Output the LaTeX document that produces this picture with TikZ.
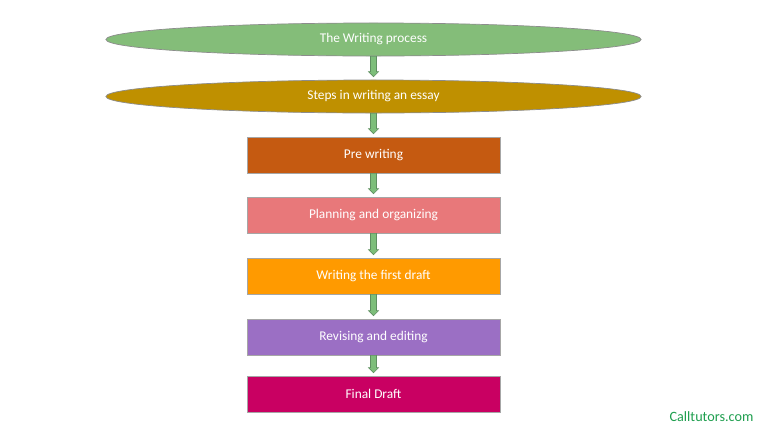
\documentclass[tikz,border=0pt]{standalone}
\usepackage{fontspec}
\setmainfont{Carlito}
\usetikzlibrary{shapes.geometric,calc}
\definecolor{procgreen}{HTML}{84BD79}
\definecolor{stepgold}{HTML}{BF9000}
\definecolor{prebrown}{HTML}{C55A11}
\definecolor{planpink}{HTML}{E8787A}
\definecolor{draftorange}{HTML}{FF9A00}
\definecolor{revpurple}{HTML}{9B6FC4}
\definecolor{finalmagenta}{HTML}{C90062}
\definecolor{arrowfill}{HTML}{7DBE7A}
\definecolor{arrowline}{HTML}{5E8F60}
\definecolor{markgreen}{HTML}{1E9E4E}
\begin{document}
\begin{tikzpicture}[x=0.025cm, y=-0.025cm,
    topic/.style = {ellipse, draw=black!45, line width=0.5pt, inner sep=0pt,
      minimum width=13.375cm, minimum height=0.825cm, text=white,
      font=\fontsize{9.5}{11}\selectfont},
    stage/.style = {rectangle, draw=black!35, line width=0.5pt, inner sep=0pt,
      minimum width=6.325cm, minimum height=0.9cm, text=white,
      font=\fontsize{9.5}{11}\selectfont},
    blockarrow/.style = {fill=arrowfill, draw=arrowline, line width=0.4pt, line join=miter}]

      \useasboundingbox (0,0) rectangle (760,428);

      \node[topic, fill=procgreen] (proc) at (373.5,39.5) {The Writing process};
      \node[topic, fill=stepgold] (steps) at (373.5,96.5) {Steps in writing an essay};

      \foreach \name/\y/\col/\txt in {pre/155/prebrown/Pre writing,
          plan/215/planpink/Planning and organizing,
          draft/276/draftorange/Writing the first draft,
          revise/337/revpurple/Revising and editing,
          final/394/finalmagenta/Final Draft}
        \node[stage, fill=\col] (\name) at (373.5,\y) {\txt};

      \foreach \a/\b in {proc/steps, steps/pre, pre/plan, plan/draft, draft/revise, revise/final}
        \draw[blockarrow] ($(\a.south)+(-3,0)$) -- ($(\b.north)+(-3,-8)$)
          -- ($(\b.north)+(-5,-8)$) -- ($(\b.north)+(0,-3)$) -- ($(\b.north)+(5,-8)$)
          -- ($(\b.north)+(3,-8)$) -- ($(\a.south)+(3,0)$) -- cycle;

      \node[text=markgreen, font=\fontsize{10.1}{12}\selectfont] (mark) at (711.5,417) {Calltutors.com};

      \end{tikzpicture}
\end{document}
